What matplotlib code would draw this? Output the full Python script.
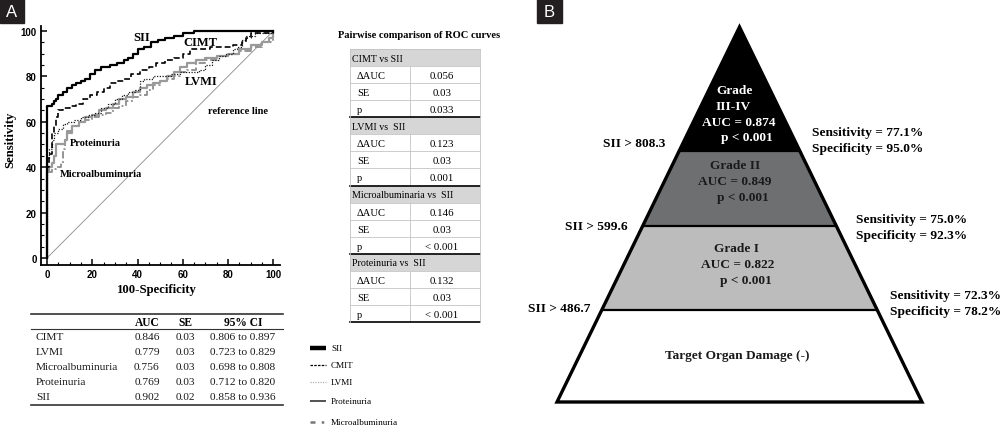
import numpy as np
import matplotlib.pyplot as plt
from matplotlib.patches import Polygon, Rectangle
from matplotlib.ticker import MultipleLocator

SERIF = ['Liberation Serif', 'DejaVu Serif']
SANS = ['Liberation Sans', 'DejaVu Sans']

# ROC curves (100-specificity, sensitivity)
sii_x = [0, 0, 1, 2, 3, 4, 5, 7, 9, 11, 13, 15, 17, 19, 21, 24, 28, 31, 34, 36, 38, 40, 43, 46, 49, 52, 56, 60, 65, 100]
sii_y = [0, 67, 67, 68, 69, 70, 72, 73, 75, 76, 77, 78, 79, 81, 83, 84, 85, 86, 87, 88, 90, 92, 93, 95, 96, 97, 98, 99, 100, 100]
cimt_x = [0, 0, 1, 2, 3, 4, 5, 7, 10, 13, 16, 19, 22, 25, 28, 31, 34, 37, 41, 45, 48, 52, 56, 60, 63, 67, 72, 77, 82, 86, 88, 90, 93, 100]
cimt_y = [0, 40, 46, 55, 58, 62, 65, 66, 67, 68, 70, 72, 73, 75, 77, 78, 79, 81, 83, 84, 86, 87, 88, 90, 92, 92, 93, 93, 94, 95, 97, 99, 99, 100]
lvmi_x = [0, 0, 1, 2, 3, 5, 7, 9, 12, 15, 18, 21, 24, 27, 30, 33, 36, 39, 41, 43, 47, 51, 55, 59, 63, 67, 70, 73, 76, 79, 82, 84, 86, 88, 92, 100]
lvmi_y = [0, 44, 48, 52, 55, 57, 59, 60, 61, 62, 63, 64, 66, 68, 70, 72, 73, 74, 78, 79, 80, 80, 81, 82, 82, 83, 85, 87, 89, 90, 92, 93, 96, 98, 99, 100]
prot_x = [0, 0, 1, 2, 3, 4, 6, 8, 9, 11, 14, 17, 20, 23, 26, 29, 32, 35, 38, 41, 44, 47, 50, 53, 56, 59, 62, 66, 70, 75, 80, 85, 90, 95, 98, 100]
prot_y = [0, 38, 40, 42, 45, 50, 50, 52, 55, 58, 60, 62, 63, 65, 66, 68, 70, 71, 73, 75, 76, 77, 78, 80, 82, 84, 86, 87, 88, 89, 90, 92, 94, 95, 97, 100]
micro_x = [0, 0, 2, 4, 6, 7, 8, 9, 11, 14, 17, 20, 23, 26, 29, 32, 35, 38, 41, 44, 47, 50, 53, 56, 59, 62, 66, 70, 75, 80, 85, 90, 95, 100]
micro_y = [0, 38, 39, 40, 42, 48, 52, 56, 58, 60, 61, 62, 63, 64, 66, 67, 69, 71, 72, 74, 76, 78, 79, 80, 82, 83, 86, 87, 89, 90, 91, 93, 95, 100]

# AUC table
auc_names = ['CIMT', 'LVMI', 'Microalbuminuria', 'Proteinuria', 'SII']
auc_vals = ['0.846', '0.779', '0.756', '0.769', '0.902']
auc_se = ['0.03', '0.03', '0.03', '0.03', '0.02']
auc_ci = ['0.806 to 0.897', '0.723 to 0.829', '0.698 to 0.808', '0.712 to 0.820', '0.858 to 0.936']

# pairwise comparison
pair_names = ['CIMT vs SII', 'LVMI vs  SII', 'Microalbuminaria vs  SII', 'Proteinuria vs  SII']
pair_dauc = ['0.056', '0.123', '0.146', '0.132']
pair_se = ['0.03', '0.03', '0.03', '0.03']
pair_p = ['0.033', '0.001', '< 0.001', '< 0.001']

# panel B
grades = ['Grade\nIII-IV', 'Grade II', 'Grade I']
grade_auc = ['0.874', '0.849', '0.822']
cutoffs = ['808.3', '599.6', '486.7']
sens = ['77.1', '75.0', '72.3']
spec = ['95.0', '92.3', '78.2']

fig = plt.figure(figsize=(10.05, 4.31), dpi=100)

# overlay in pixel coordinates
ov = fig.add_axes([0, 0, 1, 1])
ov.set_xlim(0, 1005)
ov.set_ylim(431, 0)
ov.axis('off')

# ---------- panel A: ROC ----------
ax = fig.add_axes([40.7 / 1005, (431 - 266) / 431, 239.3 / 1005, 239 / 431])
ax.set_xlim(-2.8, 103)
ax.set_ylim(-3.1, 102.2)
ax.plot([0, 100], [0, 100], color='#8a8a8a', lw=0.6)
ax.plot(micro_x, micro_y, color='#8c8c8c', lw=1.3, ls=(0, (4, 1.5, 1, 1.5)), drawstyle='steps-post')
ax.plot(prot_x, prot_y, color='#9a9a9a', lw=1.6, drawstyle='steps-post')
ax.plot(lvmi_x, lvmi_y, color='#1a1a1a', lw=0.9, ls=(0, (1, 1.2)), drawstyle='steps-post')
ax.plot(cimt_x, cimt_y, color='black', lw=1.2, ls=(0, (3.5, 1.8)), drawstyle='steps-post')
ax.plot(sii_x, sii_y, color='black', lw=1.6, drawstyle='steps-post')

for s in ['top', 'right']:
    ax.spines[s].set_visible(False)
for s in ['left', 'bottom']:
    ax.spines[s].set_linewidth(1.3)
ax.set_xticks([0, 20, 40, 60, 80, 100])
ax.set_yticks([0, 20, 40, 60, 80, 100])
ax.xaxis.set_minor_locator(MultipleLocator(5))
ax.yaxis.set_minor_locator(MultipleLocator(5))
ax.tick_params(which='major', direction='in', length=4, width=1.1, labelsize=7, pad=3)
ax.tick_params(which='minor', direction='in', length=2.5, width=0.8)
for lab in ax.get_xticklabels() + ax.get_yticklabels():
    lab.set_fontfamily(SANS)
    lab.set_fontweight('bold')
ax.set_xlabel('100-Specificity', fontfamily=SERIF, fontweight='bold', fontsize=9.2)
ax.set_ylabel('Sensitivity', fontfamily=SERIF, fontweight='bold', fontsize=9.2)
ax.xaxis.set_label_coords(0.486, -0.075)
ax.yaxis.set_label_coords(-0.1, 0.527)

lab_kw = dict(fontfamily=SERIF, fontweight='bold', ha='center', va='center')
ax.text(42, 97.5, 'SII', fontsize=9, **lab_kw)
ax.text(68, 95, 'CIMT', fontsize=9, **lab_kw)
ax.text(68, 78, 'LVMI', fontsize=9, **lab_kw)
ax.text(84.5, 65, 'reference line', fontsize=7.5, **lab_kw)
ax.text(10, 51, 'Proteinuria', fontsize=7.5, fontfamily=SERIF, fontweight='bold', ha='left', va='center')
ax.text(5.5, 37, 'Microalbuminuria', fontsize=7.5, fontfamily=SERIF, fontweight='bold', ha='left', va='center')

# panel labels
ov.add_patch(Rectangle((0, 0), 24, 24, color='#231f20'))
ov.text(12, 12.5, 'A', color='white', fontsize=12, fontfamily=SANS, ha='center', va='center')
ov.add_patch(Rectangle((537, 0), 25, 24, color='#231f20'))
ov.text(549.5, 12.5, 'B', color='white', fontsize=12, fontfamily=SANS, ha='center', va='center')

# ---------- AUC table ----------
ov.plot([31, 283], [315, 315], color='#333333', lw=1.2)
ov.plot([31, 283], [330, 330], color='#333333', lw=0.8)
ov.plot([31, 283], [406, 406], color='#333333', lw=1.2)
hdr = dict(fontfamily=SERIF, fontweight='bold', fontsize=8.3, ha='center', va='center')
ov.text(147, 323, 'AUC', **hdr)
ov.text(185, 323, 'SE', **hdr)
ov.text(243, 323, '95% CI', **hdr)
cell = dict(fontfamily=SERIF, fontsize=8.2, va='center', color='#1a1a1a')
for i in range(len(auc_names)):
    y = 338 + i * 15
    ov.text(36, y, auc_names[i], ha='left', **cell)
    ov.text(147, y, auc_vals[i], ha='center', **cell)
    ov.text(185, y, auc_se[i], ha='center', **cell)
    ov.text(243, y, auc_ci[i], ha='center', **cell)

# legend
leg_y = [349, 366, 383, 402, 423]
leg_lab = ['SII', 'CMIT', 'LVMI', 'Proteinuria', 'Microalbuminuria']
leg_sty = [dict(color='black', lw=3.2),
           dict(color='black', lw=0.9, ls=(0, (2, 1))),
           dict(color='#b0b0b0', lw=0.9, ls=(0, (1, 1))),
           dict(color='#444444', lw=1.3),
           dict(color='#777777', lw=1.8, ls=(0, (2, 2.5, 1, 1, 1, 1)))]
for y, lab, sty in zip(leg_y, leg_lab, leg_sty):
    ov.plot([310, 326], [y, y], solid_capstyle='butt', **sty)
    ov.text(331, y, lab, fontfamily=SERIF, fontsize=6.6, ha='left', va='center')

# ---------- pairwise table ----------
ov.text(419, 35, 'Pairwise comparison of ROC curves', fontfamily=SERIF, fontweight='bold',
        fontsize=7.6, ha='center', va='center')
tx0, tx1, tsplit = 350, 480, 410
top, blk, rh = 50, 68.25, 17.06
grid = '#c4c4c4'
for i in range(len(pair_names)):
    y0 = top + i * blk
    ov.add_patch(Rectangle((tx0, y0), tx1 - tx0, rh, facecolor='#d6d6d6', edgecolor='none'))
    ov.text(352, y0 + rh / 2 + 0.5, pair_names[i], fontfamily=SERIF, fontsize=7.2, ha='left', va='center')
    rows = [('ΔAUC', pair_dauc[i]), ('SE', pair_se[i]), ('p', pair_p[i])]
    for j, (k, v) in enumerate(rows):
        yr = y0 + rh * (j + 1)
        ov.plot([tx0, tx1], [yr, yr], color=grid, lw=0.6)
        ov.plot([tsplit, tsplit], [yr, yr + rh], color=grid, lw=0.6)
        ov.text(357, yr + rh / 2 + 1, k, fontfamily=SERIF, fontsize=7.6, ha='left', va='center')
        ov.text(442, yr + rh / 2 + 1, v, fontfamily=SERIF, fontsize=7.8, ha='center', va='center')
    ov.plot([tx0, tx1], [y0 + blk, y0 + blk], color='black', lw=1.2)
ov.plot([tx0, tx0], [top, top + 4 * blk], color=grid, lw=0.6)
ov.plot([tx1, tx1], [top, top + 4 * blk], color=grid, lw=0.6)
ov.plot([tx0, tx1], [top, top], color=grid, lw=0.6)

# ---------- panel B: pyramid ----------
apex_x, apex_y = 739.5, 28
base_y, half_base = 403, 182.5
levels = [apex_y, 152, 227, 311, base_y]
fills = ['black', '#6e6f70', '#bcbcbc', 'white']


def half_w(y):
    return half_base * (y - apex_y) / (base_y - apex_y)


for k in range(4):
    ya, yb = levels[k], levels[k + 1]
    pts = [(apex_x - half_w(ya), ya), (apex_x + half_w(ya), ya),
           (apex_x + half_w(yb), yb), (apex_x - half_w(yb), yb)]
    ov.add_patch(Polygon(pts, closed=True, facecolor=fills[k], edgecolor='none'))
for y in levels[1:4]:
    ov.plot([apex_x - half_w(y), apex_x + half_w(y)], [y, y], color='black', lw=1.6)
ov.add_patch(Polygon([(apex_x, apex_y), (apex_x + half_base, base_y), (apex_x - half_base, base_y)],
                     closed=True, facecolor='none', edgecolor='black', lw=2.4, joinstyle='miter'))

pk = dict(fontfamily=SERIF, fontweight='bold', fontsize=9.6, va='center')
# grade III-IV
ov.text(735, 91, 'Grade', color='white', ha='center', **pk)
ov.text(733, 107, 'III-IV', color='white', ha='center', **pk)
ov.text(739, 123, 'AUC = ' + grade_auc[0], color='white', ha='center', **pk)
ov.text(747, 138, 'p < 0.001', color='white', ha='center', **pk)
# grade II
ov.text(735, 166, grades[1], color='#1a1a1a', ha='center', **pk)
ov.text(735, 182, 'AUC = ' + grade_auc[1], color='#1a1a1a', ha='center', **pk)
ov.text(743, 198, 'p < 0.001', color='#1a1a1a', ha='center', **pk)
# grade I
ov.text(736, 249, grades[2], color='#1a1a1a', ha='center', **pk)
ov.text(738, 265, 'AUC = ' + grade_auc[2], color='#1a1a1a', ha='center', **pk)
ov.text(746, 281, 'p < 0.001', color='#1a1a1a', ha='center', **pk)
ov.text(737, 356, 'Target Organ Damage (-)', color='#1a1a1a', ha='center', **pk)

cut_pos = [(665, 144), (628, 227), (590, 309)]
sen_pos = [(812, 133), (856, 220), (890, 296)]
for i in range(3):
    ov.text(cut_pos[i][0], cut_pos[i][1], 'SII > ' + cutoffs[i], ha='right', **pk)
    ov.text(sen_pos[i][0], sen_pos[i][1], 'Sensitivity = ' + sens[i] + '%', ha='left', **pk)
    ov.text(sen_pos[i][0], sen_pos[i][1] + 16, 'Specificity = ' + spec[i] + '%', ha='left', **pk)

fig.savefig('out.png', dpi=100)
